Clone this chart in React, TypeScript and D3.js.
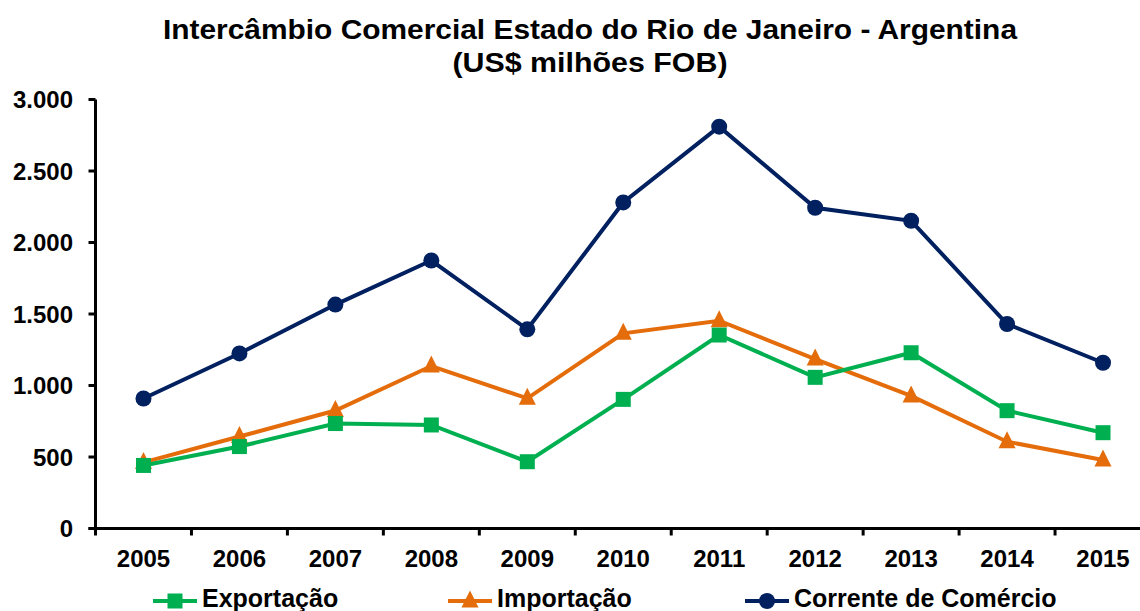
import React from 'react';
import * as d3 from 'd3';

const years = ['2005', '2006', '2007', '2008', '2009', '2010', '2011', '2012', '2013', '2014', '2015'];
const exportacao = [441, 573, 734, 724, 467, 903, 1353, 1057, 1229, 824, 670];
const importacao = [462, 643, 825, 1136, 910, 1365, 1453, 1185, 927, 607, 479];
const corrente = [909, 1224, 1566, 1874, 1393, 2280, 2810, 2243, 2152, 1430, 1159];
const yTicks = [0, 500, 1000, 1500, 2000, 2500, 3000];

const GREEN = '#00B050';
const ORANGE = '#E46C0A';
const NAVY = '#002060';

const fmt = (v: number) => d3.format(',')(v).replace(/,/g, '.');

const App = () => {
  const width = 1140;
  const height = 611;
  const left = 95.5;
  const right = 1151;
  const top = 99.5;
  const bottom = 528.5;

  const x = d3.scaleBand().domain(years).range([left, right]);
  const y = d3.scaleLinear().domain([0, 3000]).range([bottom, top]);
  const cx = (yr: string) => (x(yr) as number) + x.bandwidth() / 2;

  const line = d3.line<number>()
    .x((_, i) => cx(years[i]))
    .y(d => y(d));

  const triangle = (px: number, py: number, s: number) =>
    `M${px},${py - s * 0.62}L${px + s / 2},${py + s * 0.38}L${px - s / 2},${py + s * 0.38}Z`;

  const font = '"Liberation Sans", Arial, sans-serif';

  const legend = [
    { name: 'Exportação', color: GREEN, x0: 153, shape: 'square' },
    { name: 'Importação', color: ORANGE, x0: 448, shape: 'triangle' },
    { name: 'Corrente de Comércio', color: NAVY, x0: 745, shape: 'circle' },
  ];

  return (
    <svg width={width} height={height} style={{ position: 'absolute', left: 0, top: 0, background: '#fff' }}
      fontFamily={font}>
      <rect width={width} height={height} fill="#fff" />
      {/* title */}
      <text x={590} y={39} textAnchor="middle" fontSize={28} fontWeight="bold"
        textLength={854} lengthAdjust="spacingAndGlyphs">
        Intercâmbio Comercial Estado do Rio de Janeiro - Argentina
      </text>
      <text x={590} y={72} textAnchor="middle" fontSize={28} fontWeight="bold"
        textLength={275} lengthAdjust="spacingAndGlyphs">
        (US$ milhões FOB)
      </text>

      {/* y axis */}
      <line x1={left} x2={left} y1={top} y2={bottom + 1.5} stroke="#000" strokeWidth={3} />
      {yTicks.map(t => (
        <g key={t}>
          <line x1={left - 7} x2={left} y1={y(t)} y2={y(t)} stroke="#000" strokeWidth={3} />
          <text x={73} y={y(t) + 8.5} textAnchor="end" fontSize={24} fontWeight="bold">{fmt(t)}</text>
        </g>
      ))}

      {/* x axis */}
      <line x1={left - 7} x2={width} y1={bottom} y2={bottom} stroke="#000" strokeWidth={3} />
      {years.map(yr => (
        <g key={yr}>
          <line x1={x(yr) as number} x2={x(yr) as number} y1={bottom} y2={bottom + 7} stroke="#000" strokeWidth={3} />
          <text x={cx(yr)} y={567} textAnchor="middle" fontSize={24} fontWeight="bold">{yr}</text>
        </g>
      ))}

      {/* series */}
      <path d={line(corrente) as string} fill="none" stroke={NAVY} strokeWidth={4} />
      <path d={line(importacao) as string} fill="none" stroke={ORANGE} strokeWidth={4} />
      <path d={line(exportacao) as string} fill="none" stroke={GREEN} strokeWidth={4} />

      {corrente.map((v, i) => (
        <circle key={'c' + i} cx={cx(years[i])} cy={y(v)} r={8} fill={NAVY} />
      ))}
      {importacao.map((v, i) => (
        <path key={'i' + i} d={triangle(cx(years[i]), y(v), 17)} fill={ORANGE} />
      ))}
      {exportacao.map((v, i) => (
        <rect key={'e' + i} x={cx(years[i]) - 7.5} y={y(v) - 7.5} width={15} height={15} fill={GREEN} />
      ))}

      {/* legend */}
      {legend.map(l => (
        <g key={l.name}>
          <line x1={l.x0} x2={l.x0 + 44} y1={601} y2={601} stroke={l.color} strokeWidth={4} />
          {l.shape === 'square' && <rect x={l.x0 + 14.5} y={593.5} width={15} height={15} fill={l.color} />}
          {l.shape === 'triangle' && <path d={triangle(l.x0 + 22, 601, 17)} fill={l.color} />}
          {l.shape === 'circle' && <circle cx={l.x0 + 22} cy={601} r={8} fill={l.color} />}
          <text x={l.x0 + 49} y={607} fontSize={25} fontWeight="bold">{l.name}</text>
        </g>
      ))}
    </svg>
  );
};

export default App;
